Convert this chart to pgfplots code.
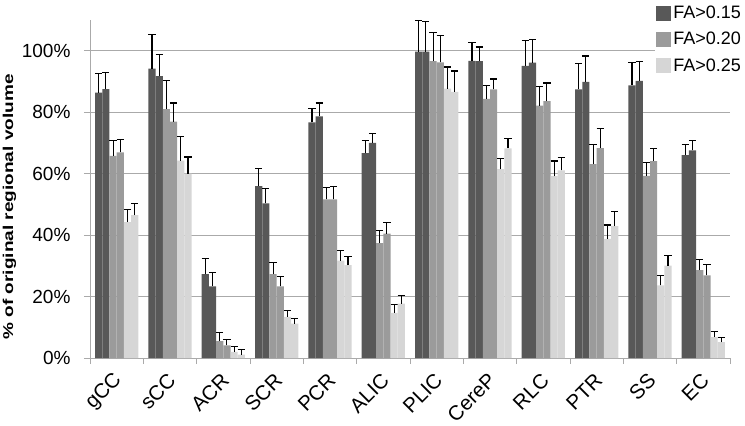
\documentclass[border=0pt]{standalone}
\usepackage{fontspec}
\setmainfont{Liberation Sans}
\usepackage{pgfplots}
\usepackage{pgfplotstable}
\pgfplotsset{compat=1.18}
\definecolor{cdark}{RGB}{88,88,88}
\definecolor{cmed}{RGB}{155,155,155}
\definecolor{clight}{RGB}{214,214,214}
\definecolor{cgrid}{RGB}{170,170,170}

\pgfplotstableread{
x d1 d1e d2 d2e m1 m1e m2 m2e l1 l1e l2 l2e
0 86.4 6.2 87.5 5.5 65.8 4.9 66.9 4.3 44.2 4.1 46.5 3.8
1 94.2 11.0 91.7 7.1 81.0 9.3 76.9 6.1 64.2 7.8 60.0 5.4
2 27.3 5.1 23.3 4.4 5.5 2.9 4.1 2.0 2.0 1.6 1.1 1.7
3 55.9 5.8 50.3 4.9 27.3 3.9 23.3 3.3 13.4 2.1 11.2 1.6
4 76.7 4.4 78.6 4.4 51.6 3.8 51.6 4.1 31.7 3.2 30.2 2.9
5 66.7 4.0 70.0 3.2 37.4 4.1 40.5 3.5 14.7 2.6 17.7 2.7
6 99.7 10.1 99.7 9.7 96.6 9.2 96.2 8.9 87.7 7.0 86.6 6.8
7 96.7 5.9 96.6 4.6 84.3 4.3 87.4 3.4 61.5 3.5 68.2 3.1
8 95.1 8.2 96.1 7.5 82.1 6.2 83.6 5.9 59.2 4.9 61.1 4.2
9 87.4 8.5 89.9 8.4 63.1 6.3 68.3 6.3 38.8 4.5 42.9 4.8
10 88.7 7.5 90.2 6.2 59.3 4.4 64.1 4.0 23.6 3.2 30.1 3.3
11 66.0 3.4 67.6 3.3 28.6 3.4 26.9 3.5 6.8 1.7 5.2 1.4
}\data

\pgfplotsset{
  myerr/.style={
    error bars/y dir=plus,
    error bars/y explicit,
    error bars/error bar style={black, line width=1.1pt},
    error bars/error mark options={rotate=90, mark size=3.6pt, black, line width=1.1pt},
  }
}

\begin{document}
\begin{tikzpicture}
\begin{axis}[
  at={(0pt,0pt)}, anchor=south west,
  scale only axis, width=640pt, height=338pt,
  xmin=-0.5, xmax=11.5, ymin=0, ymax=110,
  axis x line*=bottom, axis y line*=left,
  axis line style={cgrid, line width=0.8pt},
  tick align=outside,
  major tick length=6pt,
  tick style={cgrid, line width=0.8pt},
  xtick={-0.5,0.5,...,11.5},
  xticklabel=\empty,
  extra x ticks={0,1,...,11},
  extra x tick labels={gCC,sCC,ACR,SCR,PCR,ALIC,PLIC,CereP,RLC,PTR,SS,EC},
  extra x tick style={major tick length=0pt, grid=none,
    xticklabel style={rotate=45, anchor=east, inner sep=0pt, font=\fontsize{20.5}{20.5}\selectfont, xshift=-12pt, yshift=-15pt}},
  ytick={0,20,...,100},
  /pgf/number format/assume math mode=true,
  yticklabel={\pgfmathprintnumber{\tick}\%},
  yticklabel style={font=\fontsize{19}{19}\selectfont, xshift=-10pt},
  ymajorgrids, grid style={cgrid, line width=0.8pt},
  ylabel={\scalebox{1}[0.75]{\bfseries\fontsize{19}{19}\selectfont \% of original regional volume}},
  every axis y label/.style={at={(axis description cs:-0.126,0.447)}, rotate=90, anchor=center},
  ybar, bar width=7.2pt,
  legend style={at={(axis description cs:0.883,1.05)}, anchor=north west, draw=none, fill=white,
    font=\fontsize{18}{18}\selectfont, row sep=8pt, inner sep=1pt},
  legend cell align=left,
  legend image code/.code={\fill[#1] (0pt,-7.5pt) rectangle (15pt,7.5pt);},
]
\addplot[fill=cdark, draw=none, bar shift=-18pt, forget plot, myerr] table[x=x, y=d1, y error=d1e] {\data};
\addplot[fill=cdark, draw=none, bar shift=-10.8pt, forget plot, myerr] table[x=x, y=d2, y error=d2e] {\data};
\addplot[fill=cmed, draw=none, bar shift=-3.6pt, forget plot, myerr] table[x=x, y=m1, y error=m1e] {\data};
\addplot[fill=cmed, draw=none, bar shift=3.6pt, forget plot, myerr] table[x=x, y=m2, y error=m2e] {\data};
\addplot[fill=clight, draw=none, bar shift=10.8pt, forget plot, myerr] table[x=x, y=l1, y error=l1e] {\data};
\addplot[fill=clight, draw=none, bar shift=18pt, forget plot, myerr] table[x=x, y=l2, y error=l2e] {\data};
\addlegendimage{fill=cdark, draw=none}
\addlegendentry{FA>0.15}
\addlegendimage{fill=cmed, draw=none}
\addlegendentry{FA>0.20}
\addlegendimage{fill=clight, draw=none}
\addlegendentry{FA>0.25}
\end{axis}
\pgfresetboundingbox
\path (-90pt,-68pt) rectangle (655pt,358pt);
\end{tikzpicture}
\end{document}
